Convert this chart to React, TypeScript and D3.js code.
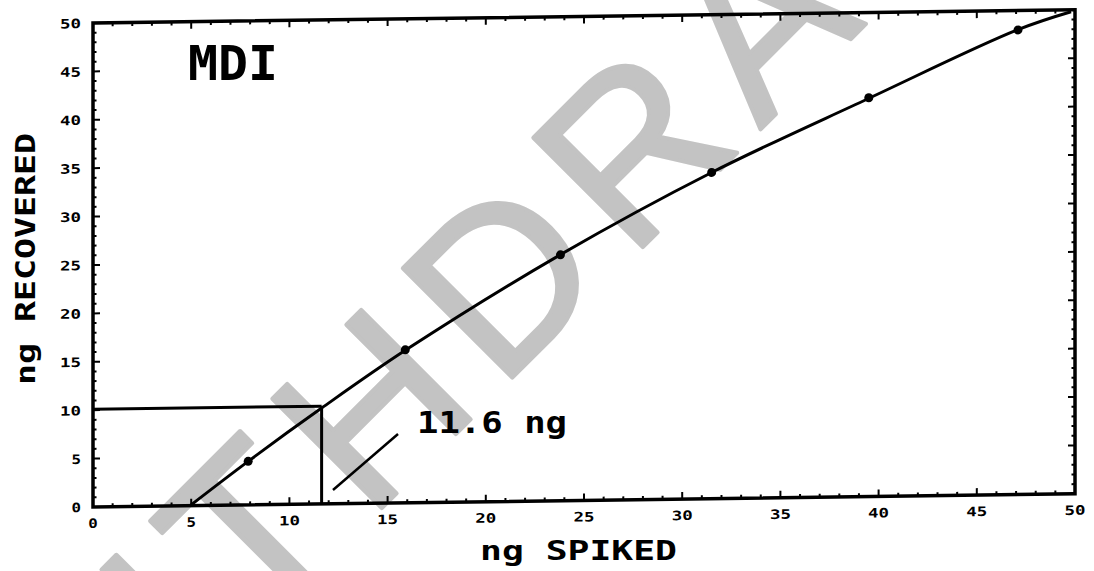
import React from "react";
import * as d3 from "d3";

// page + plot frame
const W = 1094, H = 571;
const frame = { left: 93, right: 1075, top: 23, bottom: 507 };
const skewDeg = -0.77; // the scanned frame runs slightly uphill to the right

// calibration points (ng spiked vs ng recovered)
const spikedNg = [7.9, 15.9, 23.8, 31.5, 39.5, 47.1];
const recoveredNg = [4.5, 15.8, 25.4, 33.7, 41.2, 48.0];

// fitted curve
const fitSpiked = [4.94, 7.9, 11.64, 15.94, 23.78, 31.5, 39.46, 47.06, 49.8];
const fitRecovered = [0, 4.5, 9.9, 15.8, 25.4, 33.7, 41.1, 48.0, 49.8];

// detection limit construction lines
const limitRecovered = 10.1;
const limitSpiked = 11.64;
const leaderSpiked = [12.22, 15.53];
const leaderRecovered = [1.43, 7.12];

const tickValues = [0, 5, 10, 15, 20, 25, 30, 35, 40, 45, 50];
const tickLabels = ["0", "5", "10", "15", "20", "25", "30", "35", "40", "45", "50"];
const minorTicks = d3.range(0, 51);

const monoFont = "'DejaVu Sans Mono', 'Liberation Mono', monospace";

export default function App() {
    const x = d3.scaleLinear().domain([0, 50]).range([frame.left, frame.right]);
    const y = d3.scaleLinear().domain([0, 50]).range([frame.bottom, frame.top]);

    const fitLine = d3.line<number>()
        .x((d) => x(fitSpiked[d]))
        .y((d) => y(fitRecovered[d]))
        .curve(d3.curveCatmullRom.alpha(0.5));

    const leader = d3.line<number>()
        .x((d) => x(leaderSpiked[d]))
        .y((d) => y(leaderRecovered[d]));

    const skew = `translate(${frame.left},0) skewY(${skewDeg}) translate(${-frame.left},0)`;
    const ink = "#000";

    return (
        <svg width={W} height={H} viewBox={`0 0 ${W} ${H}`}
            style={{ position: "absolute", left: 0, top: 0, background: "#fff" }}>
            <rect width={W} height={H} fill="#fff" />

            {/* watermark behind everything */}
            <g transform="translate(445,445) rotate(-45)">
                <text x={-586} y={0} fontFamily="'Liberation Sans', Arial, sans-serif"
                    fontSize={225} letterSpacing={22} fill="#c3c3c3" stroke="#c3c3c3"
                    strokeWidth={4} strokeLinejoin="round">WITHDRAWN</text>
            </g>

            <g transform={skew}>
                {/* minor + major ticks on all four sides, pointing inward */}
                {minorTicks.map((t) => {
                    const len = t % 5 === 0 ? 7 : 3.5;
                    return (
                        <g key={t} stroke={ink} strokeWidth={2}>
                            <line x1={x(t)} x2={x(t)} y1={frame.bottom} y2={frame.bottom - len} />
                            <line x1={x(t)} x2={x(t)} y1={frame.top} y2={frame.top + len} />
                            <line x1={frame.left} x2={frame.left + len} y1={y(t)} y2={y(t)} />
                            <line x1={frame.right} x2={frame.right - len} y1={y(t)} y2={y(t)} />
                        </g>
                    );
                })}
                <rect x={frame.left} y={frame.top} width={frame.right - frame.left}
                    height={frame.bottom - frame.top} fill="none" stroke={ink} strokeWidth={3.5} />

                {/* tick labels */}
                {tickValues.map((t, i) => (
                    <text key={"x" + t} x={x(t)} y={frame.bottom + 21} textAnchor="middle"
                        fontFamily={monoFont} fontWeight="bold" fontSize={13}
                        textLength={tickLabels[i].length * 11.5 - 2} lengthAdjust="spacingAndGlyphs">
                        {tickLabels[i]}
                    </text>
                ))}
                {tickValues.map((t, i) => (
                    <text key={"y" + t} x={frame.left - 12} y={y(t) + 5} textAnchor="end"
                        fontFamily={monoFont} fontWeight="bold" fontSize={13}
                        textLength={tickLabels[i].length * 11.5 - 2} lengthAdjust="spacingAndGlyphs">
                        {tickLabels[i]}
                    </text>
                ))}

                {/* 10 ng recovered -> 11.6 ng spiked construction */}
                <line x1={x(0)} x2={x(limitSpiked)} y1={y(limitRecovered)} y2={y(limitRecovered)}
                    stroke={ink} strokeWidth={3} />
                <line x1={x(limitSpiked)} x2={x(limitSpiked)} y1={y(limitRecovered)} y2={y(0)}
                    stroke={ink} strokeWidth={3} />
                <path d={leader([0, 1]) || ""} fill="none" stroke={ink} strokeWidth={2.5} />

                {/* fitted curve and measured points */}
                <path d={fitLine(d3.range(fitSpiked.length)) || ""} fill="none" stroke={ink}
                    strokeWidth={3} strokeLinejoin="round" />
                {spikedNg.map((s, i) => (
                    <circle key={i} cx={x(s)} cy={y(recoveredNg[i])} r={4.5} fill={ink} />
                ))}
            </g>

            {/* texts */}
            <text x={188} y={80} fontFamily={monoFont} fontWeight="bold" fontSize={48}
                textLength={90} lengthAdjust="spacingAndGlyphs">MDI</text>
            <text x={417} y={433} fontFamily={monoFont} fontWeight="bold" fontSize={30}
                textLength={150} lengthAdjust="spacingAndGlyphs">11.6 ng</text>
            <text x={480} y={560} fontFamily={monoFont} fontWeight="bold" fontSize={27}
                textLength={197} lengthAdjust="spacingAndGlyphs">ng SPIKED</text>
            <text transform="translate(35,385) rotate(-90)" x={0} y={0} fontFamily={monoFont}
                fontWeight="bold" fontSize={27} textLength={252}
                lengthAdjust="spacingAndGlyphs">ng RECOVERED</text>
        </svg>
    );
}
